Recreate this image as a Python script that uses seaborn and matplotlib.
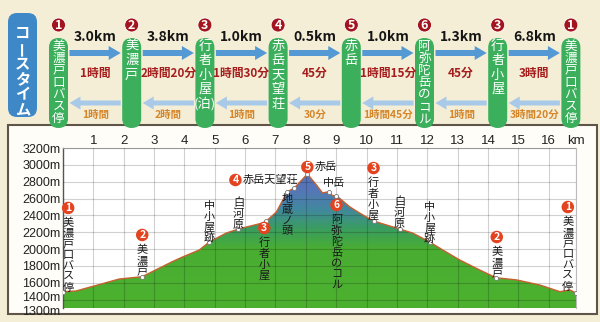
import numpy as np
import matplotlib
matplotlib.use('Agg')
import matplotlib.pyplot as plt
import seaborn as sns
from matplotlib.patches import FancyBboxPatch, Circle, Rectangle, FancyArrow, Polygon
from matplotlib.colors import LinearSegmentedColormap
from matplotlib.transforms import offset_copy

sns.set_theme(style='white')
plt.rcParams['font.family'] = ['Noto Sans CJK JP', 'DejaVu Sans']

# ---- course time (top banner) ----
stations = ['美濃戸口バス停', '美濃戸', ['行', '者', '小', '屋', '(泊)'], '赤岳天望荘',
            '赤岳', '阿弥陀岳のコル', '行者小屋', '美濃戸口バス停']
station_no = ['1', '2', '3', '4', '5', '6', '3', '1']
leg_dist = ['3.0km', '3.8km', '1.0km', '0.5km', '1.0km', '1.3km', '6.8km']
time_up = ['1時間', '2時間20分', '1時間30分', '45分', '1時間15分', '45分', '3時間']
time_back = ['1時間', '2時間', '1時間', '30分', '1時間45分', '1時間', '3時間20分']

# ---- elevation profile ----
profile_km = [0, 0.43, 1.85, 2.61, 3.6, 3.96, 4.49, 4.82, 5.38, 5.78, 6.57, 6.7,
              7.03, 7.39, 7.62, 8.05, 8.35, 8.55, 8.75, 8.88, 9.01, 9.44, 9.77,
              10.23, 11.09, 11.52, 12.08, 12.51, 13.07, 13.73, 14.26, 14.95,
              15.71, 16.37, 16.7, 16.9]
profile_elev = [1494, 1502, 1644, 1672, 1850, 1909, 1989, 2084, 2190, 2238, 2309, 2333,
                2440, 2681, 2725, 2891, 2761, 2666, 2681, 2634, 2634, 2503, 2428,
                2333, 2238, 2190, 2084, 1989, 1870, 1751, 1660, 1633,
                1573, 1494, 1514, 1478]
marker_km = [0, 2.61, 4.82, 5.78, 6.7, 7.39, 7.62, 8.05, 8.75, 9.01, 10.23, 11.09,
             12.08, 14.26, 16.9]
marker_elev = [1494, 1672, 2084, 2238, 2333, 2681, 2725, 2891, 2681, 2634, 2333, 2238,
               2084, 1660, 1478]
elev_ticks = [1300, 1400, 1600, 1800, 2000, 2200, 2400, 2600, 2800, 3000, 3200]
km_ticks = list(range(1, 17))

# label text, number, anchor (km, m), orientation
profile_labels = [
    ('美濃戸口バス停', '1', 0.17, 2488, 'v'),
    ('美濃戸', '2', 2.61, 2167, 'v'),
    ('中小屋跡', '', 4.82, 2511, 'v'),
    ('白河原', '', 5.78, 2547, 'v'),
    ('赤岳天望荘', '4', 5.68, 2820, 'h'),
    ('行者小屋', '3', 6.63, 2250, 'v'),
    ('地蔵ノ頭', '', 7.39, 2594, 'v'),
    ('赤岳', '5', 8.05, 2974, 'h'),
    ('中岳', '', 8.94, 2784, 'h'),
    ('阿弥陀岳のコル', '6', 9.01, 2523, 'v'),
    ('行者小屋', '3', 10.23, 2962, 'v'),
    ('白河原', '', 11.09, 2559, 'v'),
    ('中小屋跡', '', 12.08, 2499, 'v'),
    ('美濃戸', '2', 14.29, 2143, 'v'),
    ('美濃戸口バス停', '1', 16.63, 2499, 'v'),
]

fig = plt.figure(figsize=(6, 3.22), dpi=100)
fig.patch.set_facecolor('#f4eed6')


def vtext(ax, x, y, chars, step, **kw):
    # stack characters vertically, step in pixels
    for i, ch in enumerate(chars):
        tr = offset_copy(ax.transData, fig=fig, x=0, y=-i * step, units='dots')
        rot = 90 if ch == 'ー' else 0
        ax.text(x, y, ch, transform=tr, ha='center', va='center', rotation=rot, **kw)


# background / banner axes in pixel units
bg = fig.add_axes([0, 0, 1, 1], zorder=0)
bg.set_xlim(0, 600)
bg.set_ylim(322, 0)
bg.axis('off')

bg.add_patch(Rectangle((8, 125), 589, 189, fc='#fefdf7', ec='#5e5548', lw=1.5))

bg.add_patch(FancyBboxPatch((8, 13), 29, 104, boxstyle='round,pad=0,rounding_size=9',
                            fc='#3f88c8', ec='none'))
vtext(bg, 22.5, 33, 'コースタイム', 15.3, color='white', fontsize=11, fontweight='bold')

pill_x = [58.5 + 73.2 * i for i in range(len(stations))]
for i, (name, no) in enumerate(zip(stations, station_no)):
    x = pill_x[i]
    bg.add_patch(FancyBboxPatch((x - 9.5, 38), 19, 90, boxstyle='round,pad=0,rounding_size=9.5',
                                fc='#3caf5c', ec='none', zorder=3))
    bg.add_patch(Circle((x, 25), 7, fc='#a3151e', ec='white', lw=0.6, zorder=3))
    bg.text(x, 25.5, no, color='white', fontsize=9, fontweight='bold',
            ha='center', va='center', zorder=4)
    step = min(14.5, 85 / len(name))
    vtext(bg, x, 46, name, step, color='white', fontsize=9.5 if len(name) < 6 else 9, zorder=4)

for i in range(len(leg_dist)):
    x1 = pill_x[i] + 11
    x2 = pill_x[i + 1] - 11
    xm = (pill_x[i] + pill_x[i + 1]) / 2
    bg.add_patch(FancyArrow(x1, 53, x2 - x1, 0, width=6, head_width=14, head_length=12,
                            length_includes_head=True, fc='#5499d3', ec='none', zorder=2))
    bg.add_patch(FancyArrow(x2, 103, x1 - x2, 0, width=5, head_width=13, head_length=11,
                            length_includes_head=True, fc='#a9c9e8', ec='none', zorder=2))
    bg.text(xm, 37, leg_dist[i], fontsize=10, fontweight='bold', color='#151515',
            ha='center', va='center')
    bg.text(xm, 73, time_up[i], fontsize=8.5, fontweight='bold', color='#a51d1d',
            ha='center', va='center')
    bg.text(xm, 115, time_back[i], fontsize=7.5, fontweight='bold', color='#d5862b',
            ha='center', va='center')

# elevation profile axes
ax = fig.add_axes([63 / 600, 1 - 308 / 322, 513 / 600, 160 / 322], zorder=1)
ax.set_facecolor('white')

cmap = LinearSegmentedColormap.from_list('alt', [
    (0.0, '#4db12f'), (0.37, '#49ad33'), (0.5, '#3a9c62'),
    (0.62, '#4288a0'), (0.74, '#5676b8'), (1.0, '#606cbc')])
grad = np.linspace(1300, 3200, 400).reshape(-1, 1)
im = ax.imshow(grad, extent=[0, 16.9, 1300, 3200], origin='lower', aspect='auto',
               cmap=cmap, vmin=1300, vmax=3200, zorder=1)
verts = list(zip(profile_km, profile_elev)) + [(profile_km[-1], 1300), (profile_km[0], 1300)]
clip = Polygon(verts, closed=True, fc='none', ec='none', transform=ax.transData)
ax.add_patch(clip)
im.set_clip_path(clip)

sns.lineplot(x=profile_km, y=profile_elev, ax=ax, color='#c5622f', lw=1.0, sort=False, zorder=3)
sns.scatterplot(x=marker_km, y=marker_elev, ax=ax, s=9, color='white', edgecolor='#777777',
                linewidth=0.6, zorder=4)

for text, no, km, el, kind in profile_labels:
    if kind == 'v':
        if no:
            ax.text(km, el, no, color='white', fontsize=7.5, fontweight='bold', ha='center',
                    va='center', zorder=6,
                    bbox=dict(boxstyle='circle,pad=0.12', fc='#e2441f', ec='none'))
            tr = offset_copy(ax.transData, fig=fig, x=0, y=-15, units='dots')
            for i, ch in enumerate(text):
                t2 = offset_copy(tr, fig=fig, x=0, y=-i * 10.8, units='dots')
                ax.text(km, el, ch, transform=t2, ha='center', va='center',
                        fontsize=8, color='#1a1a1a', zorder=6)
        else:
            vtext(ax, km, el, text, 10.8, fontsize=8, color='#1a1a1a', zorder=6)
    else:
        if no:
            ax.text(km, el, no, color='white', fontsize=7.5, fontweight='bold', ha='center',
                    va='center', zorder=6,
                    bbox=dict(boxstyle='circle,pad=0.12', fc='#e2441f', ec='none'))
            tr = offset_copy(ax.transData, fig=fig, x=7, y=0, units='dots')
            ax.text(km, el, text, transform=tr, ha='left', va='center', fontsize=8,
                    color='#1a1a1a', zorder=6)
        else:
            ax.text(km, el, text, ha='center', va='center', fontsize=8, color='#1a1a1a', zorder=6)

ax.set_xlim(0, 16.9)
ax.set_ylim(1300, 3200)
ax.xaxis.tick_top()
ax.set_xticks(km_ticks + [16.9])
ax.set_xticklabels([str(k) for k in km_ticks] + ['km'])
ax.set_yticks(elev_ticks)
# the two bottom labels are drawn by hand below (they sit very close together)
ax.set_yticklabels(['', ''] + [f'{e}m' for e in elev_ticks[2:]])
ax.tick_params(axis='x', length=0, pad=1, labelsize=9.5, labelcolor='#222222',
               labelfontfamily='Liberation Sans')
ax.tick_params(axis='y', length=0, pad=2, labelsize=9, labelcolor='#222222',
               labelfontfamily='Liberation Sans')
for e, dy in zip(elev_ticks[:2], [-4, 1.5]):
    tr = offset_copy(ax.get_yaxis_transform(), fig=fig, x=-3, y=dy, units='dots')
    ax.text(0, e, f'{e}m', transform=tr, ha='right', va='center', fontsize=9,
            color='#222222', family='Liberation Sans', clip_on=False)
ax.grid(True, color='black', alpha=0.18, lw=0.8)
ax.set_axisbelow(False)
ax.set_xlabel('')
ax.set_ylabel('')
for s in ['top', 'right']:
    ax.spines[s].set_color('#bbbbbb')
    ax.spines[s].set_linewidth(0.8)
ax.spines['left'].set_color('#555555')
ax.spines['left'].set_linewidth(1.0)
ax.spines['bottom'].set_visible(False)

fig.savefig('out.png', dpi=100, facecolor=fig.get_facecolor())
